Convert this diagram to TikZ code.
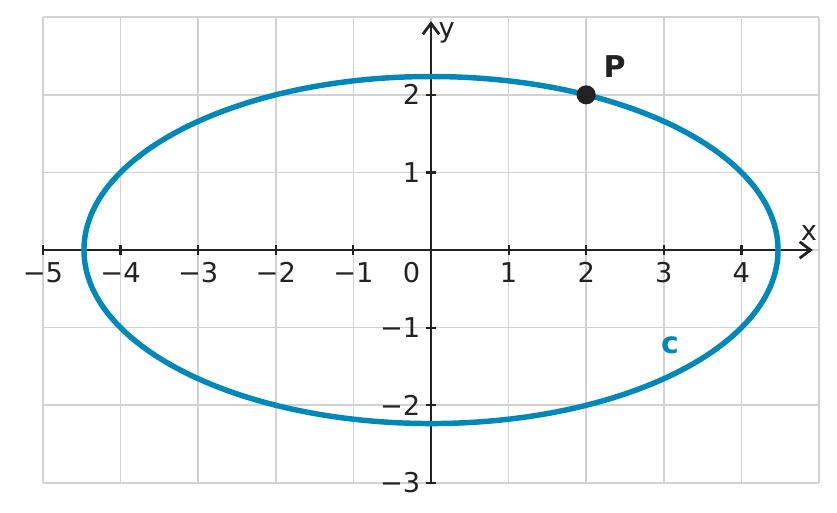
\documentclass[tikz,border=0pt]{standalone}
\usepackage{fontspec}
\setmainfont{DejaVu Sans}
\usetikzlibrary{arrows.meta}
\definecolor{curveblue}{HTML}{0088BB}
\definecolor{axisgray}{HTML}{222222}
\tikzset{
  gridline/.style={draw=gray!35, line width=0.6pt},
  axisline/.style={draw=axisgray, line width=1pt, -{Straight Barb[length=4pt,width=6pt]}},
  ticklabel/.style={font=\fontsize{10}{12}\selectfont, text=axisgray, inner sep=2pt}
}
\newcommand{\tickval}[1]{\ifnum#1<0 −\number-#1\else#1\fi}
\begin{document}
\begin{tikzpicture}[x=1cm,y=1cm]
        	\useasboundingbox (-5.554,-3.376) rectangle (5.232,3.222);

        	% grid
        	\foreach \x in {-5,...,5} \draw[gridline] (\x,-3) -- (\x,3);
        	\foreach \y in {-3,...,3} \draw[gridline] (-5,\y) -- (5,\y);

        	% axes
        	\coordinate (xs) at (-5,0);
        	\coordinate (xe) at (4.92,0);
        	\coordinate (ys) at (0,-3);
        	\coordinate (ye) at (0,2.95);
        	\draw[axisline] (xs) -- (xe);
        	\draw[axisline] (ys) -- (ye);
        	\node[ticklabel, anchor=south east] (lx) at (5.05,0.05) {x};
        	\node[ticklabel, anchor=west] (ly) at (0.02,2.8) {y};

        	% ticks
        	\foreach \x in {-5,-4,-3,-2,-1,1,2,3,4} {
        		\draw[axisgray, line width=0.8pt] (\x,0.06) -- (\x,-0.06);
        		\node[ticklabel, anchor=north] (tx\x) at (\x,-0.08) {\tickval{\x}};
        	}
        	\foreach \y in {-3,-2,-1,1,2} {
        		\draw[axisgray, line width=0.8pt] (0.06,\y) -- (-0.06,\y);
        		\node[ticklabel, anchor=east] (ty\y) at (-0.06,\y) {\tickval{\y}};
        	}
        	\node[ticklabel, anchor=north east] (t0) at (-0.06,-0.08) {0};

        	% ellipse c
        	\draw[curveblue, line width=2pt] (0,0) ellipse [x radius=4.472, y radius=2.236];
        	\node[text=curveblue, font=\bfseries\fontsize{11}{13}\selectfont] (lc) at (3.08,-1.23) {c};

        	% point P
        	\node[circle, fill=axisgray, inner sep=0pt, minimum size=7pt] (P) at (2,2) {};
        	\node[font=\bfseries\fontsize{11}{13}\selectfont, text=axisgray, anchor=south west] (lP) at (2.1,2.1) {P};
\end{tikzpicture}
\end{document}
